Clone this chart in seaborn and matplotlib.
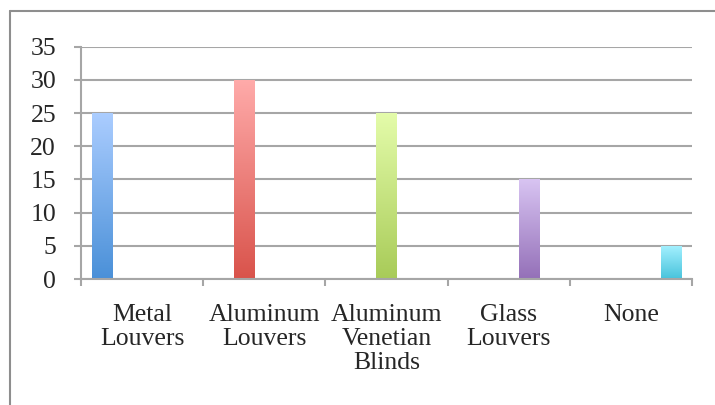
import numpy as np
import pandas as pd
import matplotlib
matplotlib.use("Agg")
import matplotlib.pyplot as plt
from matplotlib.colors import to_rgb
from matplotlib.lines import Line2D
import seaborn as sns

# Chart data
categories = ["Metal\nLouvers", "Aluminum\nLouvers", "Aluminum\nVenetian\nBlinds",
              "Glass\nLouvers", "None"]
values = [25, 30, 25, 15, 5]
y_ticks = [0, 5, 10, 15, 20, 25, 30, 35]

# gradient colours per bar (top -> bottom)
top_colors = ["#abcdff", "#ffabaa", "#e4fcaa", "#d8c4f2", "#a5f1ff"]
bottom_colors = ["#4a90d8", "#d9534b", "#a8cb58", "#9470b8", "#48c3dc"]

df = pd.DataFrame({"category": categories, "value": values})

sns.set_style("white")
plt.rcParams["font.family"] = ["Liberation Serif", "DejaVu Serif"]

grey = "#a6a6a6"

fig = plt.figure(figsize=(7.15, 4.05), dpi=100)
ax = fig.add_axes([0.1133, 0.3111, 0.8545, 0.5736])

sns.barplot(data=df, x="category", y="value", hue="category", dodge=True,
            width=0.82, palette=bottom_colors, errorbar=None, legend=False,
            linewidth=0, edgecolor="none", ax=ax)

# vertical gradient fill on each bar
bars = sorted(ax.patches, key=lambda p: p.get_x())
for patch, c_top, c_bot in zip(bars, top_colors, bottom_colors):
    x0, y0 = patch.get_x(), patch.get_y()
    w, h = patch.get_width(), patch.get_height()
    t = np.linspace(0, 1, 256)[:, None, None]
    img = np.array(to_rgb(c_top)) * (1 - t) + np.array(to_rgb(c_bot)) * t
    img = np.repeat(img, 4, axis=1)
    im = ax.imshow(img, extent=(x0, x0 + w, y0, y0 + h), origin="upper",
                   aspect="auto", zorder=patch.get_zorder() + 0.1,
                   interpolation="bilinear")
    im.set_clip_path(patch)

ax.set_xlim(-0.5, 4.5)
ax.set_ylim(0, 35)
ax.set_yticks(y_ticks)
ax.set_xticks(np.arange(-0.5, 5, 1), minor=True)

ax.yaxis.grid(True, color=grey, linewidth=1.5)
ax.set_axisbelow(True)

ax.tick_params(axis="y", left=True, length=5, width=1.5, color=grey, pad=13, labelsize=18.5)
ax.tick_params(axis="x", which="minor", bottom=True, length=5, width=1.5, color=grey)
ax.tick_params(axis="x", which="major", bottom=False, length=0, pad=18, labelsize=18.5)
for lbl in ax.get_xticklabels():
    lbl.set_linespacing(1.13)

for side in ["top", "right"]:
    ax.spines[side].set_visible(False)
for side in ["left", "bottom"]:
    ax.spines[side].set_color(grey)
    ax.spines[side].set_linewidth(1.5)

ax.set_xlabel("")
ax.set_ylabel("")

# outer chart frame (cut off at right and bottom)
fy = 1 - 11 / 405
fx = 10 / 715
fig.add_artist(Line2D([fx, 1], [fy, fy], transform=fig.transFigure, color="#8e8e8e", lw=1.5))
fig.add_artist(Line2D([fx, fx], [0, fy], transform=fig.transFigure, color="#8e8e8e", lw=1.5))

fig.savefig("out.png", dpi=100)
